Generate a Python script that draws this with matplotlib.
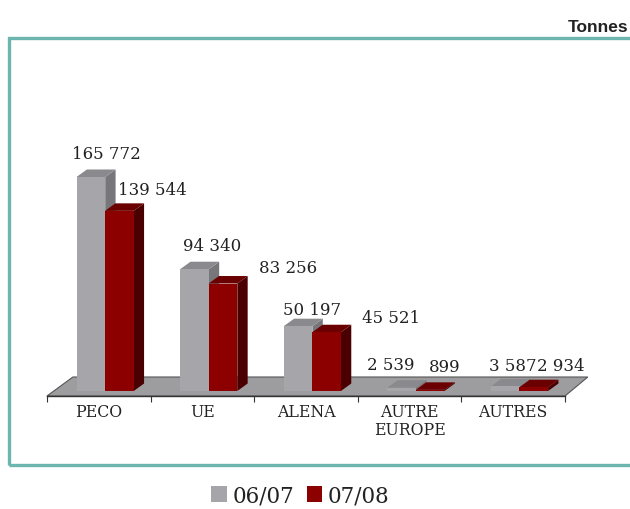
import matplotlib
matplotlib.use("Agg")
import matplotlib.pyplot as plt
from matplotlib.patches import Polygon, Rectangle

# data
categories = ["PECO", "UE", "ALENA", "AUTRE\nEUROPE", "AUTRES"]
series_names = ["06/07", "07/08"]
values_0607 = [165772, 94340, 50197, 2539, 3587]
values_0708 = [139544, 83256, 45521, 899, 2934]
value_labels_0607 = ["165 772", "94 340", "50 197", "2 539", "3 587"]
value_labels_0708 = ["139 544", "83 256", "45 521", "899", "2 934"]

# styling
front_cols = ["#a6a6aa", "#8c0000"]
top_cols = ["#8a8a8e", "#6a0000"]
side_cols = ["#77777b", "#4a0000"]
teal = "#6cb6af"
txt_col = "#222222"

W, H = 630, 510
fig = plt.figure(figsize=(W / 100, H / 100), dpi=100)

# frame round the chart (runs off the right edge)
fig.patches.append(Rectangle((9 / W, 1 - 466 / H), 700 / W, (466 - 39) / H,
                             transform=fig.transFigure, fill=False,
                             edgecolor=teal, linewidth=2.4))
fig.text(628 / W, 1 - 28 / H, "Tonnes", ha="right", va="center",
         fontsize=12.5, fontweight="bold", family="Liberation Sans", color=txt_col)

ax = fig.add_axes([47 / W, (H - 397) / H, 518 / W, 337 / H])
ax.set_xlim(0, 5)
ax.set_ylim(-3873, 257165)
ax.patch.set_visible(False)
for s in ["top", "left", "right"]:
    ax.spines[s].set_visible(False)
ax.spines["bottom"].set_color("#333333")
ax.spines["bottom"].set_linewidth(1.0)
ax.set_yticks([])
ax.set_xticks(range(6))
ax.set_xticklabels([])
ax.tick_params(axis="x", which="major", length=4, color="#333333", direction="out")
ax.set_xticks([i + 0.5 for i in range(5)], minor=True)
ax.set_xticklabels(categories, minor=True, family="DejaVu Serif",
                   fontsize=11.3, color=txt_col, linespacing=1.1)
ax.tick_params(axis="x", which="minor", length=0, pad=5)

# value units per pixel
ylo, yhi = ax.get_ylim()
px = (yhi - ylo) / 337

# floor
fl_dx, fl_dy = 0.25, 19 * px
ax.add_patch(Polygon([(0, ylo), (fl_dx, ylo + fl_dy), (5 + fl_dx - 0.03, ylo + fl_dy),
                      (5, ylo)], closed=True, facecolor="#9d9da0",
                     edgecolor="#555555", linewidth=0.8, clip_on=False, zorder=1))

# 3d bars
offsets = [0.285, 0.56]
bw = 0.277
ddx, ddy = 0.10, 7.5 * px
label_off = [
    [(16, 23), (18, 24), (14, 17), (-11, 23), (8, 21)],
    [(33, 21), (65, 16), (64, 15), (15, 23), (27, 22)],
]
for s, (vals, labs) in enumerate([(values_0607, value_labels_0607),
                                  (values_0708, value_labels_0708)]):
    for i, v in enumerate(vals):
        x0 = i + offsets[s]
        ax.add_patch(Polygon([(x0 + bw, 0), (x0 + bw + ddx, ddy), (x0 + bw + ddx, v + ddy),
                              (x0 + bw, v)], closed=True, facecolor=side_cols[s],
                             edgecolor="none", zorder=3, clip_on=False))
        ax.add_patch(Polygon([(x0, v), (x0 + ddx, v + ddy), (x0 + bw + ddx, v + ddy),
                              (x0 + bw, v)], closed=True, facecolor=top_cols[s],
                             edgecolor="none", zorder=3, clip_on=False))
        ax.bar(x0, v, width=bw, align="edge", color=front_cols[s], zorder=3,
               linewidth=0)
        ax.annotate(labs[i], (x0 + bw / 2, v), xytext=label_off[s][i],
                    textcoords="offset pixels", ha="center", va="center",
                    family="DejaVu Serif", fontsize=12, color=txt_col, zorder=5)

handles = [Rectangle((0, 0), 1, 1, facecolor=c) for c in front_cols]
fig.legend(handles, series_names, loc="lower center", bbox_to_anchor=(0.477, -0.033),
           ncol=2, frameon=False, handlelength=0.72, handleheight=0.72,
           handletextpad=0.25, columnspacing=0.6,
           prop={"family": "DejaVu Serif", "size": 15.5})
for t in fig.legends[0].get_texts():
    t.set_color(txt_col)

fig.savefig("out.png", dpi=100)
